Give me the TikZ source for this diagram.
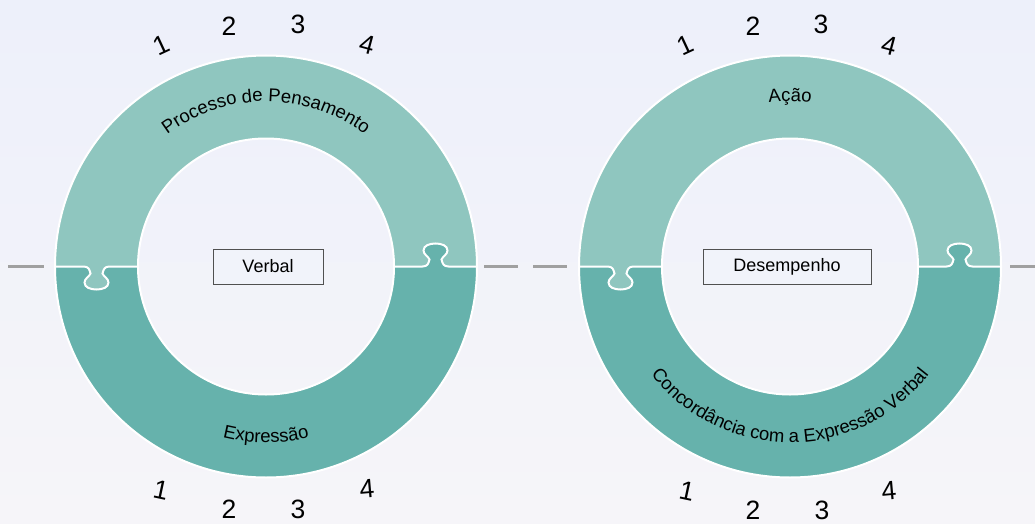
\documentclass[tikz,border=0pt]{standalone}
\usepackage{fontspec}
\setmainfont{Liberation Sans}
\usetikzlibrary{decorations.text}
\definecolor{ringlight}{RGB}{143,198,191}
\definecolor{ringdark}{RGB}{102,178,172}
\definecolor{bgtop}{RGB}{237,240,250}
\definecolor{bgbot}{RGB}{246,245,249}
\definecolor{dashgray}{RGB}{160,160,160}
\definecolor{boxfill}{RGB}{241,243,250}
\definecolor{boxline}{RGB}{80,80,80}
\tikzset{
  knobU/.style={insert path={
    .. controls +(-5,0) and +(1,4) .. ++(-7,-7)
    .. controls +(1,-3) and +(0,4) .. ++(6,-9)
    .. controls +(0,-5) and +(6,0) .. ++(-12,-7)
    .. controls +(-6,0) and +(0,-5) .. ++(-12,7)
    .. controls +(0,4) and +(-1,-3) .. ++(6,9)
    .. controls +(-1,4) and +(5,0) .. ++(-7,7)}},
  knobD/.style={insert path={
    .. controls +(-5,0) and +(1,-4) .. ++(-7,7)
    .. controls +(1,3) and +(0,-4) .. ++(6,9)
    .. controls +(0,5) and +(6,0) .. ++(-12,7)
    .. controls +(-6,0) and +(0,5) .. ++(-12,-7)
    .. controls +(0,-4) and +(-1,3) .. ++(6,-9)
    .. controls +(-1,-4) and +(5,0) .. ++(-7,-7)}},
  num/.style={font=\fontsize{26.5}{26.5}\selectfont, inner sep=0pt},
  cbox/.style={draw=boxline, line width=0.9pt, fill=boxfill, minimum height=35pt,
    inner sep=0pt, font=\fontsize{18}{18}\selectfont},
  edge/.style={white, line width=2pt},
  sidedash/.style={dashgray, line width=2.8pt},
}
\newcommand\myring[1]{%
  \fill[ringdark,even odd rule] (#1,266.5) circle[radius=211] (#1,266.5) circle[radius=128];
  \fill[ringlight] ({#1-211},266.5) arc[start angle=180,end angle=360,radius=211]
     -- ({#1+182.5},266.5) [knobU] -- ({#1+128},266.5)
     arc[start angle=360,end angle=180,radius=128]
     -- ({#1-156.5},266.5) [knobD] -- cycle;
  \draw[edge] (#1,266.5) circle[radius=211];
  \draw[edge] (#1,266.5) circle[radius=128];
  \draw[edge] ({#1+211},266.5) -- ({#1+182.5},266.5) [knobU] -- ({#1+128},266.5);
  \draw[edge] ({#1-128},266.5) -- ({#1-156.5},266.5) [knobD] -- ({#1-211},266.5);
}
\newcommand\toptext[2]{%
  \path[decorate, decoration={text along path, text align=center,
    text={|\fontsize{18.5}{18.5}\selectfont|#2}}]
    ({#1-165},266.5) arc[start angle=180,end angle=360,radius=165];
}
\newcommand\bottext[2]{%
  \path[decorate, decoration={text along path, text align=center,
    text={|\fontsize{18.5}{18.5}\selectfont|#2}}]
    ({#1-176},266.5) arc[start angle=180,end angle=0,radius=176];
}
\begin{document}
\begin{tikzpicture}[x=1pt,y=-1pt]
\useasboundingbox (0,0) rectangle (1035,524);
\shade[top color=bgtop,bottom color=bgbot] (0,0) rectangle (1035,524);
% dashes
\draw[sidedash] (8,266.3) -- (44,266.3);
\draw[sidedash] (484,266.3) -- (518,266.3);
\draw[sidedash] (533,266.3) -- (567,266.3);
\draw[sidedash] (1010,266.3) -- (1035,266.3);
% rings
\myring{266}
\myring{790}
\toptext{266}{Processo de Pensamento}
\bottext{266}{Expressão}
\toptext{790}{Ação}
\bottext{790}{Concordância com a Expressão Verbal}
% centre boxes
\node[cbox, minimum width=110pt] (verbal) at (268,266.5) {Verbal};
\node[cbox, minimum width=168pt] (desemp) at (787,266.5) {Desempenho};
% numbers left ring
\node[num, rotate=25]  (la1) at (161,45) {1};
\node[num]             (la2) at (229,26) {2};
\node[num]             (la3) at (298,24) {3};
\node[num, rotate=-15] (la4) at (367,45) {4};
\node[num, rotate=-12] (lb1) at (161,490) {1};
\node[num]             (lb2) at (229,509) {2};
\node[num]             (lb3) at (298,509) {3};
\node[num, rotate=5]   (lb4) at (367,489) {4};
% numbers right ring
\node[num, rotate=25]  (ra1) at (685,45) {1};
\node[num]             (ra2) at (753,26) {2};
\node[num]             (ra3) at (821,24) {3};
\node[num, rotate=-15] (ra4) at (889,46) {4};
\node[num, rotate=-12] (rb1) at (687,491) {1};
\node[num]             (rb2) at (753,510) {2};
\node[num]             (rb3) at (822,510) {3};
\node[num, rotate=5]   (rb4) at (889,491) {4};
\end{tikzpicture}
\end{document}
